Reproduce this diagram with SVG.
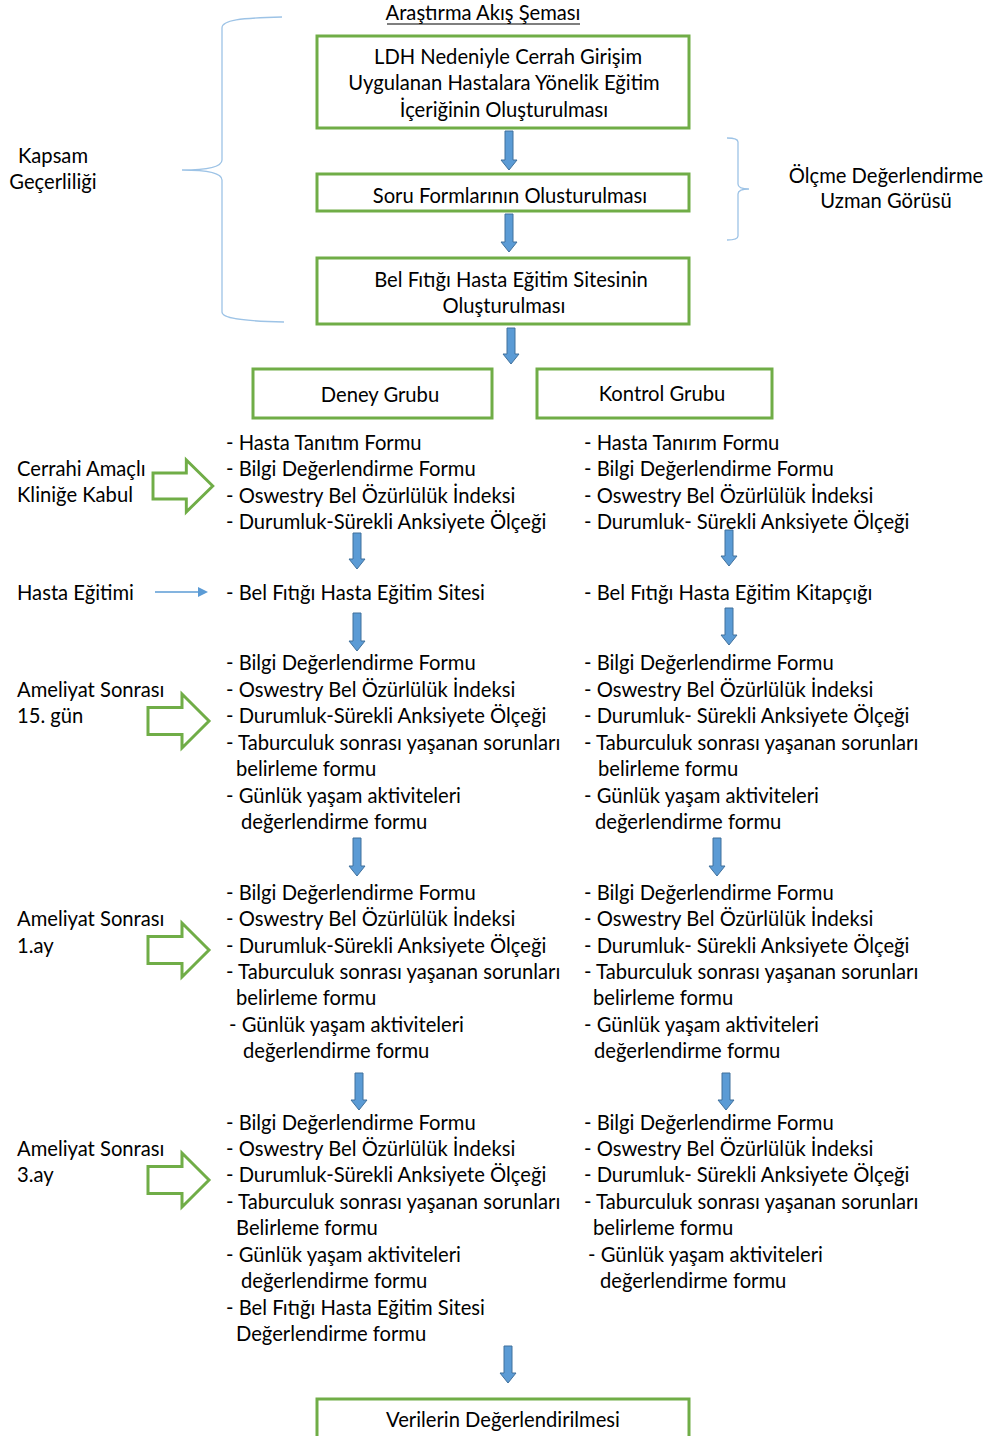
<svg xmlns="http://www.w3.org/2000/svg" width="987" height="1436" viewBox="0 0 987 1436">
<style>
text{font-family:Lato,"Liberation Sans",sans-serif;font-size:20.2px;fill:#000}
.c{text-anchor:middle}
.box{fill:#fff;stroke:#70AD47;stroke-width:3}
.dn{fill:#5B9BD5;stroke:#41719C;stroke-width:1}
.hol{fill:#fff;stroke:#70AD47;stroke-width:3;stroke-linejoin:miter}
.br{fill:none;stroke:#9DC3E6;stroke-width:1.3}
</style>
<defs>
<path id="hollow" d="M0,-13.5 H34 V-27 L61,0 L34,27 V13.5 H0 Z"/>
</defs>
<rect width="987" height="1436" fill="#fff"/>

<g id="title">
<text x="483" y="20" class="c">Araştırma Akış Şeması</text>
<line x1="387" y1="24" x2="580" y2="24" stroke="#000" stroke-width="1.2"/>
</g>

<g id="braces">
<path class="br" d="M282,17 C240,18 222,20 222,28 V160 C222,166 210,170 182,170 C210,170 222,174 222,180 V312 C222,318 240,321 284,322"/>
<path class="br" d="M727,138 C735,138 738,139 738,142 V184 C738,187 741,189 749,189 C741,189 738,191 738,194 V236 C738,239 735,240 727,240"/>
</g>

<g id="kapsam">
<text x="53" y="163" class="c">Kapsam</text>
<text x="53" y="189" class="c">Geçerliliği</text>
</g>
<g id="olcme">
<text x="886" y="183" class="c">Ölçme Değerlendirme</text>
<text x="886" y="208" class="c">Uzman Görüsü</text>
</g>

<g id="box1">
<rect class="box" x="317" y="36" width="372" height="92"/>
<text x="508" y="64" class="c">LDH Nedeniyle Cerrah Girişim</text>
<text x="504" y="90" class="c">Uygulanan Hastalara Yönelik Eğitim</text>
<text x="504" y="117" class="c">İçeriğinin Oluşturulması</text>
</g>
<g id="box2">
<rect class="box" x="317" y="174" width="372" height="37"/>
<text x="510" y="203" class="c">Soru Formlarının Olusturulması</text>
</g>
<g id="box3">
<rect class="box" x="317" y="258" width="372" height="66"/>
<text x="511" y="287" class="c">Bel Fıtığı Hasta Eğitim Sitesinin</text>
<text x="504" y="313" class="c">Oluşturulması</text>
</g>
<g id="deney">
<rect class="box" x="253" y="369" width="239" height="49"/>
<text x="380" y="402" class="c">Deney Grubu</text>
</g>
<g id="kontrol">
<rect class="box" x="537" y="369" width="235" height="49"/>
<text x="662" y="401" class="c">Kontrol Grubu</text>
</g>
<g id="box-final">
<rect class="box" x="317" y="1399" width="372" height="50"/>
<text x="503" y="1427" class="c">Verilerin Değerlendirilmesi</text>
</g>

<g id="labels">
<text x="17" y="476">Cerrahi Amaçlı</text>
<text x="17" y="502">Kliniğe Kabul</text>
<text x="17" y="600">Hasta Eğitimi</text>
<text x="17" y="697">Ameliyat Sonrası</text>
<text x="17" y="723">15. gün</text>
<text x="17" y="926">Ameliyat Sonrası</text>
<text x="17" y="953">1.ay</text>
<text x="17" y="1156">Ameliyat Sonrası</text>
<text x="17" y="1182">3.ay</text>
</g>

<g id="list-admission">
<text x="226" y="450">- Hasta Tanıtım Formu</text>
<text x="226" y="476">- Bilgi Değerlendirme Formu</text>
<text x="226" y="503">- Oswestry Bel Özürlülük İndeksi</text>
<text x="226" y="529">- Durumluk-Sürekli Anksiyete Ölçeği</text>
<text x="584" y="450">- Hasta Tanırım Formu</text>
<text x="584" y="476">- Bilgi Değerlendirme Formu</text>
<text x="584" y="503">- Oswestry Bel Özürlülük İndeksi</text>
<text x="584" y="529">- Durumluk- Sürekli Anksiyete Ölçeği</text>
</g>

<g id="list-education">
<text x="226" y="600">- Bel Fıtığı Hasta Eğitim Sitesi</text>
<text x="584" y="600">- Bel Fıtığı Hasta Eğitim Kitapçığı</text>
</g>

<g id="list-15gun">
<text x="226" y="670">- Bilgi Değerlendirme Formu</text>
<text x="226" y="697">- Oswestry Bel Özürlülük İndeksi</text>
<text x="226" y="723">- Durumluk-Sürekli Anksiyete Ölçeği</text>
<text x="226" y="750">- Taburculuk sonrası yaşanan sorunları</text>
<text x="236" y="776">belirleme formu</text>
<text x="226" y="803">- Günlük yaşam aktiviteleri</text>
<text x="241" y="829">değerlendirme formu</text>
<text x="584" y="670">- Bilgi Değerlendirme Formu</text>
<text x="584" y="697">- Oswestry Bel Özürlülük İndeksi</text>
<text x="584" y="723">- Durumluk- Sürekli Anksiyete Ölçeği</text>
<text x="584" y="750">- Taburculuk sonrası yaşanan sorunları</text>
<text x="598" y="776">belirleme formu</text>
<text x="584" y="803">- Günlük yaşam aktiviteleri</text>
<text x="595" y="829">değerlendirme formu</text>
</g>

<g id="list-1ay">
<text x="226" y="900">- Bilgi Değerlendirme Formu</text>
<text x="226" y="926">- Oswestry Bel Özürlülük İndeksi</text>
<text x="226" y="953">- Durumluk-Sürekli Anksiyete Ölçeği</text>
<text x="226" y="979">- Taburculuk sonrası yaşanan sorunları</text>
<text x="236" y="1005">belirleme formu</text>
<text x="229" y="1032">- Günlük yaşam aktiviteleri</text>
<text x="243" y="1058">değerlendirme formu</text>
<text x="584" y="900">- Bilgi Değerlendirme Formu</text>
<text x="584" y="926">- Oswestry Bel Özürlülük İndeksi</text>
<text x="584" y="953">- Durumluk- Sürekli Anksiyete Ölçeği</text>
<text x="584" y="979">- Taburculuk sonrası yaşanan sorunları</text>
<text x="593" y="1005">belirleme formu</text>
<text x="584" y="1032">- Günlük yaşam aktiviteleri</text>
<text x="594" y="1058">değerlendirme formu</text>
</g>

<g id="list-3ay">
<text x="226" y="1130">- Bilgi Değerlendirme Formu</text>
<text x="226" y="1156">- Oswestry Bel Özürlülük İndeksi</text>
<text x="226" y="1182">- Durumluk-Sürekli Anksiyete Ölçeği</text>
<text x="226" y="1209">- Taburculuk sonrası yaşanan sorunları</text>
<text x="236" y="1235">Belirleme formu</text>
<text x="226" y="1262">- Günlük yaşam aktiviteleri</text>
<text x="241" y="1288">değerlendirme formu</text>
<text x="226" y="1315">- Bel Fıtığı Hasta Eğitim Sitesi</text>
<text x="236" y="1341">Değerlendirme formu</text>
<text x="584" y="1130">- Bilgi Değerlendirme Formu</text>
<text x="584" y="1156">- Oswestry Bel Özürlülük İndeksi</text>
<text x="584" y="1182">- Durumluk- Sürekli Anksiyete Ölçeği</text>
<text x="584" y="1209">- Taburculuk sonrası yaşanan sorunları</text>
<text x="593" y="1235">belirleme formu</text>
<text x="588" y="1262">- Günlük yaşam aktiviteleri</text>
<text x="600" y="1288">değerlendirme formu</text>
</g>

<g id="connectors">
<path class="dn" d="M505,131 H513 V160 H517 L509,170 L501,160 H505 Z"/>
<path class="dn" d="M505,214 H513 V242 H517 L509,252 L501,242 H505 Z"/>
<path class="dn" d="M507,328 H515 V354 H519 L511,364 L503,354 H507 Z"/>
<path class="dn" d="M353,533 H361 V559 H365 L357,569 L349,559 H353 Z"/>
<path class="dn" d="M725,530 H733 V556 H737 L729,566 L721,556 H725 Z"/>
<path class="dn" d="M353,613 H361 V641 H365 L357,651 L349,641 H353 Z"/>
<path class="dn" d="M725,608 H733 V635 H737 L729,645 L721,635 H725 Z"/>
<path class="dn" d="M353,838 H361 V866 H365 L357,876 L349,866 H353 Z"/>
<path class="dn" d="M713,838 H721 V866 H725 L717,876 L709,866 H713 Z"/>
<path class="dn" d="M355,1073 H363 V1100 H367 L359,1110 L351,1100 H355 Z"/>
<path class="dn" d="M722,1073 H730 V1100 H734 L726,1110 L718,1100 H722 Z"/>
<path class="dn" d="M504,1346 H512 V1373 H516 L508,1383 L500,1373 H504 Z"/>
<use href="#hollow" class="hol" transform="translate(153,486) scale(0.98,0.96)"/>
<use href="#hollow" class="hol" transform="translate(148,721)"/>
<use href="#hollow" class="hol" transform="translate(148,950)"/>
<use href="#hollow" class="hol" transform="translate(148,1180)"/>
<line x1="155" y1="592" x2="199" y2="592" stroke="#5B9BD5" stroke-width="1.5"/>
<path d="M198,587 L208,592 L198,597 Z" fill="#5B9BD5"/>
</g>
</svg>
